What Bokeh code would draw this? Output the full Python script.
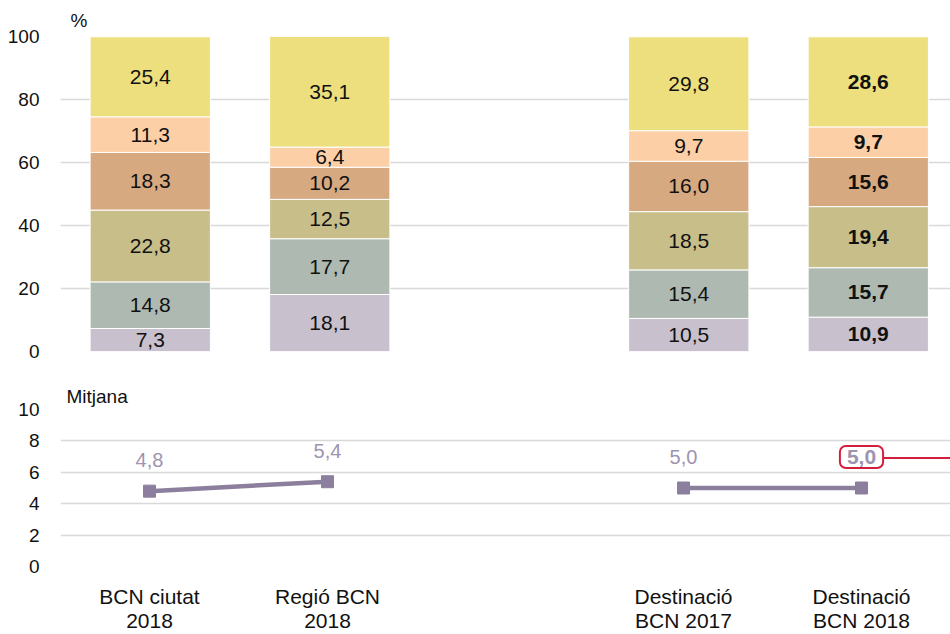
from bokeh.plotting import figure
from bokeh.layouts import column
from bokeh.models import Range1d, FixedTicker, Label, ColumnDataSource, Title
from bokeh.core.properties import value
from bokeh.embed import file_html
from bokeh.resources import INLINE

# ---------------- data ----------------
categories = ["BCN ciutat\n2018", "Regió BCN\n2018", "Destinació\nBCN 2017", "Destinació\nBCN 2018"]
positions = [0, 1, 3, 4]

# stacked shares (%), bottom to top
seg_1 = [7.3, 18.1, 10.5, 10.9]
seg_2 = [14.8, 17.7, 15.4, 15.7]
seg_3 = [22.8, 12.5, 18.5, 19.4]
seg_4 = [18.3, 10.2, 16.0, 15.6]
seg_5 = [11.3, 6.4, 9.7, 9.7]
seg_6 = [25.4, 35.1, 29.8, 28.6]

mean_values = [4.8, 5.4, 5.0, 5.0]
line_groups = [[0, 1], [2, 3]]
highlight_index = 3

pct_ticks = [0, 20, 40, 60, 80, 100]
mean_ticks = [0, 2, 4, 6, 8, 10]

seg_colors = ["#C8C0CC", "#ADB9B1", "#C8BE8A", "#D6A980", "#FCCFA6", "#EEDF7E"]
LINE_COLOR = "#8B7F9D"
LABEL_COLOR = "#9D94AF"
RED = "#D41F3C"
GRID = "#D9D9D9"
FONT = "Liberation Sans"

# ---------------- layout constants ----------------
W = 950
LEFT = 60
TOP_BORDER = 36
TOP_FRAME_H = 315
TOP_H = 380
BOT_H = 254
BOT_FRAME_TOP = 29
BOT_FRAME_H = 162
LABEL_DY = 31  # px above the marker

# ---------------- top: stacked bars ----------------
segs = [seg_1, seg_2, seg_3, seg_4, seg_5, seg_6]
names = ["s%d" % i for i in range(len(segs))]
data = {"x": positions}
for n, s in zip(names, segs):
    data[n] = s
src = ColumnDataSource(data)

p1 = figure(width=W, height=TOP_H, title=None,
            x_range=Range1d(-0.5, 4.458), y_range=Range1d(0, 100),
            output_backend="svg", toolbar_location=None,
            min_border_left=LEFT, min_border_right=0,
            min_border_top=TOP_BORDER,
            min_border_bottom=TOP_H - TOP_BORDER - TOP_FRAME_H)
p1.vbar_stack(names, x="x", width=0.67, color=seg_colors,
              line_color="white", line_width=1, source=src)

lx, ly, lt, ls = [], [], [], []
for j, x in enumerate(positions):
    base = 0.0
    for s in segs:
        v = s[j]
        lx.append(x)
        ly.append(base + v / 2.0)
        lt.append(f"{v:.1f}".replace(".", ","))
        ls.append("bold" if j == highlight_index else "normal")
        base += v
lsrc = ColumnDataSource(dict(x=lx, y=ly, t=lt, st=ls))
p1.text(x="x", y="y", text="t", source=lsrc, text_align="center",
        text_baseline="middle", text_font=value(FONT),
        text_font_size="21px", text_color="#111111",
        text_font_style={"field": "st"})

t1 = Title(text="%", align="left", offset=10, standoff=12,
           text_font=FONT, text_font_size="19px", text_font_style="normal",
           text_color="#111111")
p1.add_layout(t1, "above")

# ---------------- bottom: mean line ----------------
p2 = figure(width=W, height=BOT_H, title=None,
            x_range=Range1d(-0.5, 4.5), y_range=Range1d(0, 10),
            output_backend="svg", toolbar_location=None,
            min_border_left=LEFT, min_border_right=0,
            min_border_top=BOT_FRAME_TOP,
            min_border_bottom=BOT_H - BOT_FRAME_TOP - BOT_FRAME_H)

for g in line_groups:
    gx = [positions[i] for i in g]
    gy = [mean_values[i] for i in g]
    p2.line(gx, gy, line_color=LINE_COLOR, line_width=4.5)
    p2.scatter(gx, gy, marker="square", size=12, fill_color=LINE_COLOR,
               line_color=LINE_COLOR)

norm_idx = [i for i in range(len(positions)) if i != highlight_index]
p2.text(x=[positions[i] for i in norm_idx], y=[mean_values[i] for i in norm_idx],
        text=[f"{mean_values[i]:.1f}".replace(".", ",") for i in norm_idx],
        y_offset=-LABEL_DY, text_align="center", text_baseline="middle",
        text_font=value(FONT), text_font_size="20px", text_color=LABEL_COLOR)

px_per_unit = BOT_FRAME_H / 10.0
hx = positions[highlight_index]
hy = mean_values[highlight_index]
p2.segment(x0=[hx], y0=[hy + LABEL_DY / px_per_unit],
           x1=[p2.x_range.end], y1=[hy + LABEL_DY / px_per_unit],
           line_color=RED, line_width=2)
p2.add_layout(Label(x=hx, y=hy, y_offset=LABEL_DY,
                    text=f"{hy:.1f}".replace(".", ","),
                    text_align="center", text_baseline="middle",
                    text_font=FONT, text_font_size="21px",
                    text_font_style="bold", text_color=LABEL_COLOR,
                    background_fill_color="white",
                    border_line_color=RED, border_line_width=2,
                    border_radius=6,
                    padding=dict(left=7, right=7, top=4, bottom=4)))

t2 = Title(text="Mitjana", align="left", offset=6, standoff=6,
           text_font=FONT, text_font_size="19px", text_font_style="normal",
           text_color="#111111")
p2.add_layout(t2, "above")

# ---------------- axes styling ----------------
for p, ticks in ((p1, pct_ticks), (p2, mean_ticks)):
    p.outline_line_color = None
    p.xgrid.visible = False
    p.ygrid.grid_line_color = GRID
    p.ygrid.grid_line_width = 1.5
    p.yaxis.ticker = FixedTicker(ticks=ticks)
    p.yaxis.axis_line_color = None
    p.yaxis.major_tick_line_color = None
    p.yaxis.minor_tick_line_color = None
    p.yaxis.major_label_standoff = 15
    p.yaxis.major_label_text_font = FONT
    p.yaxis.major_label_text_font_size = "19px"
    p.yaxis.major_label_text_color = "#111111"

p1.xaxis.visible = False

p2.xaxis.ticker = FixedTicker(ticks=positions)
p2.xaxis.major_label_overrides = {x: c for x, c in zip(positions, categories)}
p2.xaxis.axis_line_color = None
p2.xaxis.major_tick_line_color = None
p2.xaxis.minor_tick_line_color = None
p2.xaxis.major_tick_out = 0
p2.xaxis.major_tick_in = 0
p2.xaxis.major_label_standoff = 18
p2.xaxis.major_label_text_line_height = 1.05
p2.xaxis.major_label_text_font = FONT
p2.xaxis.major_label_text_font_size = "21px"
p2.xaxis.major_label_text_color = "#111111"

layout = column(p1, p2, spacing=0)
open("out.html", "w").write(file_html(layout, INLINE))
